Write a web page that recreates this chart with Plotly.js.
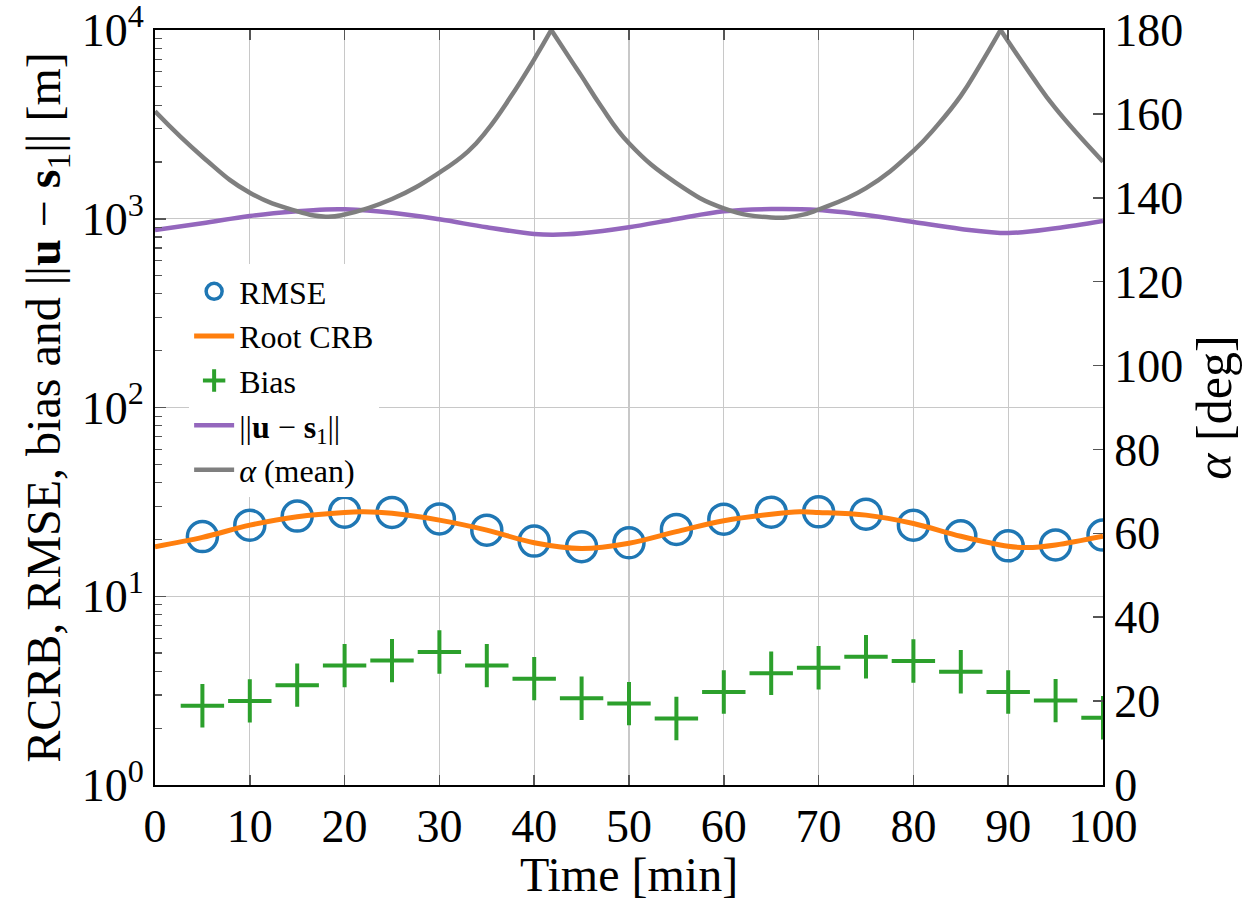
<!DOCTYPE html>
<html>
<head>
<meta charset="utf-8">
<script src="https://cdn.plot.ly/plotly-3.0.1.min.js"></script>
<style>html,body{margin:0;padding:0;background:#fff;}#chart{width:1256px;height:901px;}</style>
</head>
<body>
<div id="chart"></div>
<script>
// ---- data ----
var rmseTime = [5,10,15,20,25,30,35,40,45,50,55,60,65,70,75,80,85,90,95,100];
var rmseVal  = [20.7,23.8,26.6,27.9,27.8,25.7,22.4,19.6,18.3,19.2,22.6,25.6,27.9,28.0,27.2,23.8,20.9,18.5,18.7,21.1];

var crbTime = [0,5,10,15,20,22,25,30,35,40,45,50,55,60,65,68,70,75,80,85,90,92,95,100];
var crbVal  = [18.3,20.5,23.8,26.4,27.8,28.0,27.5,25.3,22.4,19.2,17.9,19.1,22.0,25.1,27.2,28.0,27.8,26.9,24.3,20.8,18.4,18.1,18.7,20.8];

var biasTime = [5,10,15,20,25,30,35,40,45,50,55,60,65,70,75,80,85,90,95,100];
var biasVal  = [2.63,2.79,3.38,4.29,4.56,5.07,4.29,3.66,2.88,2.70,2.25,3.11,3.91,4.18,4.78,4.54,3.98,3.11,2.80,2.27];

var distTime = [0,5,10,15,18,20,25,30,35,40,42,45,50,55,60,65,70,75,80,85,90,95,100];
var distVal  = [872,946,1034,1095,1120,1122,1077,993,901,830,822,837,901,997,1095,1126,1113,1047,961,883,840,890,973];

var alphaTime = [0,5,10,15,18,20,25,30,33,35,37.5,40,41.8,44,45,47,50,55,60,65,68,70,75,80,82.5,85,87,89.2,92.5,95,100];
var alphaDeg  = [160.6,149.8,141.2,136.8,135.5,136.0,139.7,146.0,151.0,156.0,164.0,173.0,180,172.4,169.0,162.0,153.0,143.5,137.5,135.3,135.8,137.2,142.3,151.2,157.2,164.3,171.5,180,169.0,161.3,148.6];

var yTickVals = [1,10,100,1000,10000];
var yTickText = ['10<sup>0</sup>','10<sup>1</sup>','10<sup>2</sup>','10<sup>3</sup>','10<sup>4</sup>'];

var legendNames = ['RMSE','Root CRB','Bias','||<b>u</b> \u2212 <b>s</b><sub>1</sub>||','<i>\u03b1</i> (mean)'];

// ---- build ----
var FONT = 'Liberation Serif, DejaVu Serif, serif';
var traces = [];
traces.push({x: rmseTime, y: rmseVal, name: legendNames[0], mode: 'markers', type: 'scatter',
  marker: {symbol: 'circle-open', size: 30, color: '#1f77b4', line: {width: 3.5, color: '#1f77b4'}}});
traces.push({x: crbTime, y: crbVal, name: legendNames[1], mode: 'lines', type: 'scatter',
  line: {color: '#ff7f0e', width: 5, shape: 'spline'}});
traces.push({x: biasTime, y: biasVal, name: legendNames[2], mode: 'markers', type: 'scatter',
  marker: {symbol: 'cross-thin-open', size: 31, color: '#2ca02c', line: {width: 4, color: '#2ca02c'}}});
traces.push({x: distTime, y: distVal, name: legendNames[3], mode: 'lines', type: 'scatter',
  line: {color: '#9467bd', width: 4.5, shape: 'spline'}});

// split the alpha curve at its cusps (values of 180) so the spline keeps the sharp peaks
var cuts = [0];
for (var i = 1; i < alphaDeg.length - 1; i++) { if (alphaDeg[i] === 180) cuts.push(i); }
cuts.push(alphaDeg.length - 1);
for (var k = 0; k < cuts.length - 1; k++) {
  traces.push({x: alphaTime.slice(cuts[k], cuts[k+1] + 1), y: alphaDeg.slice(cuts[k], cuts[k+1] + 1),
    name: legendNames[4], legendgroup: 'alpha', showlegend: k === 0, yaxis: 'y2',
    mode: 'lines', type: 'scatter', line: {color: '#7f7f7f', width: 4.5, shape: 'spline', smoothing: 1.3}});
}

var minorVals = [];
for (var d = 0; d < 4; d++) { for (var m = 2; m <= 9; m++) minorVals.push(m * Math.pow(10, d)); }

var layout = {
  width: 1256, height: 901,
  margin: {l: 155, r: 153, t: 30, b: 116},
  paper_bgcolor: '#ffffff', plot_bgcolor: '#ffffff',
  font: {family: FONT, color: '#000', size: 32},
  showlegend: true,
  legend: {x: 0.036, y: 0.69, xanchor: 'left', yanchor: 'top', bgcolor: '#ffffff', borderwidth: 0,
    font: {family: FONT, size: 32, color: '#000'}, tracegroupgap: 0, itemwidth: 40},
  xaxis: {range: [0, 100], dtick: 10, tick0: 0, showgrid: true, gridcolor: '#c8c8c8', gridwidth: 1.3,
    zeroline: false, showline: true, linecolor: '#000', linewidth: 2, mirror: 'ticks',
    ticks: 'inside', ticklen: 10, tickwidth: 1.5, tickcolor: '#555', ticklabeloverflow: 'allow',
    tickfont: {family: FONT, size: 46}, title: {text: 'Time [min]', font: {family: FONT, size: 48}, standoff: 6}},
  yaxis: {type: 'log', range: [0, 4], tickmode: 'array', tickvals: yTickVals, ticktext: yTickText,
    showgrid: true, gridcolor: '#c8c8c8', gridwidth: 1.3, zeroline: false,
    showline: true, linecolor: '#000', linewidth: 2, ticklabeloverflow: 'allow',
    ticks: 'inside', ticklen: 11, tickwidth: 1.5, tickcolor: '#555',
    minor: {tickmode: 'array', tickvals: minorVals, ticks: 'inside', ticklen: 7, tickwidth: 1.2, tickcolor: '#555', showgrid: false},
    tickfont: {family: FONT, size: 46},
    title: {text: 'RCRB, RMSE, bias and ||<b>u</b> \u2212 <b>s</b><sub>1</sub>|| [m]', font: {family: FONT, size: 48}, standoff: 6}},
  yaxis2: {overlaying: 'y', side: 'right', range: [0, 180], dtick: 20, tick0: 0,
    showgrid: false, zeroline: false, showline: true, linecolor: '#000', linewidth: 2, ticklabeloverflow: 'allow',
    ticks: 'inside', ticklen: 10, tickwidth: 1.5, tickcolor: '#555',
    tickfont: {family: FONT, size: 46},
    title: {text: '<i>\u03b1</i> [deg]', font: {family: FONT, size: 50}, standoff: 14}}
};

Plotly.newPlot('chart', traces, layout, {displayModeBar: false, staticPlot: true});
</script>
</body>
</html>
